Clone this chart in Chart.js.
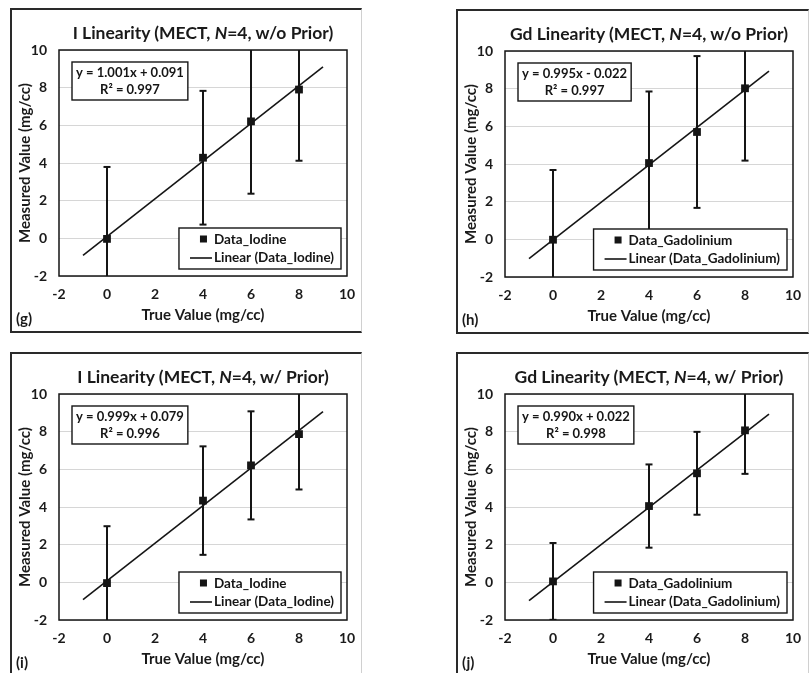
<!DOCTYPE html>
<html>
<head>
<meta charset="utf-8">
<script src="https://cdn.jsdelivr.net/npm/chart.js@4.4.1/dist/chart.umd.min.js"></script>
<style>
  body { margin: 0; background: #fff; width: 811px; height: 673px; overflow: hidden; position: relative; font-family: Lato, "Open Sans", sans-serif; color: #1a1a1a; }
  .panel { position: absolute; width: 352px; height: 325px; }
  .panel canvas { position: absolute; left: 0; top: 0; }
  .frame { position: absolute; left: 0; top: 0; width: 100%; height: 100%; box-sizing: border-box;
    border-top: 2px solid #2a2a2a; border-left: 2px solid #2a2a2a; border-bottom: 2px solid #2a2a2a; border-right: 1px solid #d0d0d0; pointer-events: none; }
  .title { position: absolute; left: 0; width: 386px; top: 14px; line-height: 22px; text-align: center; font-weight: bold; font-size: 17.5px; white-space: nowrap; }
  .tag { position: absolute; left: 6px; top: 301px; font-weight: bold; font-size: 15px; }
</style>
</head>
<body>
<div class="panel" id="pg" style="left:10px;top:8px;">
  <canvas id="cg" width="352" height="325"></canvas>
  <div class="title">I Linearity (MECT, <i>N</i>=4, w/o Prior)</div>
  <div class="tag">(g)</div>
  <div class="frame"></div>
</div>
<div class="panel" id="ph" style="left:456px;top:9px;width:353px;">
  <canvas id="ch" width="352" height="325"></canvas>
  <div class="title">Gd Linearity (MECT, <i>N</i>=4, w/o Prior)</div>
  <div class="tag">(h)</div>
  <div class="frame"></div>
</div>
<div class="panel" id="pi" style="left:10px;top:352px;">
  <canvas id="ci" width="352" height="325"></canvas>
  <div class="title">I Linearity (MECT, <i>N</i>=4, w/ Prior)</div>
  <div class="tag">(i)</div>
  <div class="frame"></div>
</div>
<div class="panel" id="pj" style="left:456px;top:352px;width:353px;">
  <canvas id="cj" width="352" height="325"></canvas>
  <div class="title">Gd Linearity (MECT, <i>N</i>=4, w/ Prior)</div>
  <div class="tag">(j)</div>
  <div class="frame"></div>
</div>
<script>
// true concentrations (x) and axis ticks
const trueValues = [0, 4, 6, 8];
const axisTicks = [-2, 0, 2, 4, 6, 8, 10];
const trendX = [-1, 9];

// (g) iodine, no prior
const iodineNoPrior = [-0.03, 4.28, 6.21, 7.90];
const iodineNoPriorErr = [3.82, 3.55, 3.84, 3.78];
const iodineNoPriorTrend = [-0.91, 9.10];

// (h) gadolinium, no prior
const gdNoPrior = [-0.02, 4.05, 5.70, 8.02];
const gdNoPriorErr = [3.70, 3.80, 4.03, 3.84];
const gdNoPriorTrend = [-1.02, 8.93];

// (i) iodine, with prior
const iodinePrior = [-0.04, 4.34, 6.21, 7.87];
const iodinePriorErr = [3.02, 2.88, 2.87, 2.94];
const iodinePriorTrend = [-0.92, 9.07];

// (j) gadolinium, with prior
const gdPrior = [0.05, 4.05, 5.79, 8.07];
const gdPriorErr = [2.04, 2.21, 2.20, 2.31];
const gdPriorTrend = [-0.97, 8.93];

Chart.defaults.font.family = "Lato, 'Open Sans', sans-serif";
Chart.defaults.font.weight = "bold";
Chart.defaults.color = "#1a1a1a";

const INK = "#151515";

// plot frame, equation box and legend drawn inside the plot area
const boxPlugin = {
  id: "boxes",
  afterDraw(chart, args, opts) {
    const ctx = chart.ctx;
    const a = chart.chartArea;
    ctx.save();
    ctx.strokeStyle = INK;
    ctx.lineWidth = 1.5;
    ctx.strokeRect(a.left, a.top, a.right - a.left, a.bottom - a.top);

    // trendline equation
    ctx.font = "bold 13px Lato, sans-serif";
    const ew = Math.max(...opts.equation.map((t) => ctx.measureText(t).width)) + 8;
    const ex = a.left + 13;
    const ey = a.top + 12;
    ctx.fillStyle = "#fff";
    ctx.fillRect(ex, ey, ew, 38);
    ctx.lineWidth = 1.4;
    ctx.strokeRect(ex, ey, ew, 38);
    ctx.fillStyle = INK;
    ctx.textAlign = "center";
    ctx.textBaseline = "middle";
    ctx.fillText(opts.equation[0], ex + ew / 2, ey + 11);
    ctx.fillText(opts.equation[1], ex + ew / 2, ey + 28);

    // legend
    const names = [chart.data.datasets[0].label, chart.data.datasets[1].label];
    ctx.font = "bold 13.5px Lato, sans-serif";
    const tw = Math.max(...names.map((t) => ctx.measureText(t).width));
    const lw = tw + 42;
    const lh = 41;
    const lx = a.right - 6 - lw;
    const ly = a.bottom - 7 - lh;
    ctx.fillStyle = "#fff";
    ctx.fillRect(lx, ly, lw, lh);
    ctx.strokeRect(lx, ly, lw, lh);
    ctx.fillStyle = INK;
    ctx.textAlign = "left";
    const tx = lx + 35;
    ctx.fillRect(lx + 21, ly + 11 - 3.5, 7, 7);
    ctx.fillText(names[0], tx, ly + 12);
    ctx.beginPath();
    ctx.lineWidth = 1.6;
    ctx.moveTo(lx + 11, ly + 30);
    ctx.lineTo(lx + 33, ly + 30);
    ctx.stroke();
    ctx.fillText(names[1], tx, ly + 30);
    ctx.restore();
  }
};

function makeChart(canvasId, name, measured, errors, trend, equation) {
  const errorBars = trueValues.map((x, i) => ({
    label: "err",
    data: [
      { x: x, y: measured[i] - errors[i] },
      { x: x, y: measured[i] + errors[i] }
    ],
    showLine: true,
    borderColor: INK,
    borderWidth: 2,
    pointStyle: "line",
    pointRadius: 3.5,
    pointBorderWidth: 2,
    pointBorderColor: INK,
    pointHoverRadius: 0,
    order: 3
  }));

  return new Chart(document.getElementById(canvasId), {
    type: "scatter",
    data: {
      datasets: [
        {
          label: "Data_" + name,
          data: trueValues.map((x, i) => ({ x: x, y: measured[i] })),
          pointStyle: "rect",
          pointRadius: 5.5,
          backgroundColor: INK,
          borderColor: INK,
          borderWidth: 0,
          order: 1
        },
        {
          label: "Linear (Data_" + name + ")",
          data: trendX.map((x, i) => ({ x: x, y: trend[i] })),
          showLine: true,
          borderColor: INK,
          borderWidth: 1.6,
          pointRadius: 0,
          order: 2
        },
        ...errorBars
      ]
    },
    options: {
      responsive: false,
      animation: false,
      devicePixelRatio: 1,
      layout: { padding: { top: 42, right: 15, bottom: 5, left: 0 } },
      plugins: {
        legend: { display: false },
        tooltip: { enabled: false },
        boxes: { equation: equation }
      },
      scales: {
        x: {
          type: "linear",
          min: axisTicks[0],
          max: axisTicks[axisTicks.length - 1],
          afterBuildTicks: (scale) => {
            scale.ticks = axisTicks.map((v) => ({ value: v }));
          },
          afterFit: (scale) => {
            scale.height = 52;
            scale.paddingLeft = 0;
            scale.paddingRight = 0;
          },
          grid: { display: false, drawTicks: false },
          border: { display: false },
          ticks: { padding: 10, font: { size: 14, weight: "bold" }, maxRotation: 0 },
          title: { display: true, text: "True Value (mg/cc)", font: { size: 15, weight: "bold" }, padding: { top: 0, bottom: 4 } }
        },
        y: {
          type: "linear",
          min: axisTicks[0],
          max: axisTicks[axisTicks.length - 1],
          afterBuildTicks: (scale) => {
            scale.ticks = axisTicks.map((v) => ({ value: v }));
          },
          afterFit: (scale) => {
            scale.width = 49;
            scale.paddingTop = 0;
            scale.paddingBottom = 0;
          },
          grid: { color: "#d6d6d6", lineWidth: 1, drawTicks: false },
          border: { display: false },
          ticks: { padding: 12, font: { size: 14, weight: "bold" } },
          title: { display: true, text: "Measured Value (mg/cc)", font: { size: 15, weight: "bold" }, padding: { top: 6, bottom: 0 } }
        }
      }
    },
    plugins: [boxPlugin]
  });
}

makeChart("cg", "Iodine", iodineNoPrior, iodineNoPriorErr, iodineNoPriorTrend, ["y = 1.001x + 0.091", "R\u00b2 = 0.997"]);
makeChart("ch", "Gadolinium", gdNoPrior, gdNoPriorErr, gdNoPriorTrend, ["y = 0.995x - 0.022", "R\u00b2 = 0.997"]);
makeChart("ci", "Iodine", iodinePrior, iodinePriorErr, iodinePriorTrend, ["y = 0.999x + 0.079", "R\u00b2 = 0.996"]);
makeChart("cj", "Gadolinium", gdPrior, gdPriorErr, gdPriorTrend, ["y = 0.990x + 0.022", "R\u00b2 = 0.998"]);
</script>
</body>
</html>
